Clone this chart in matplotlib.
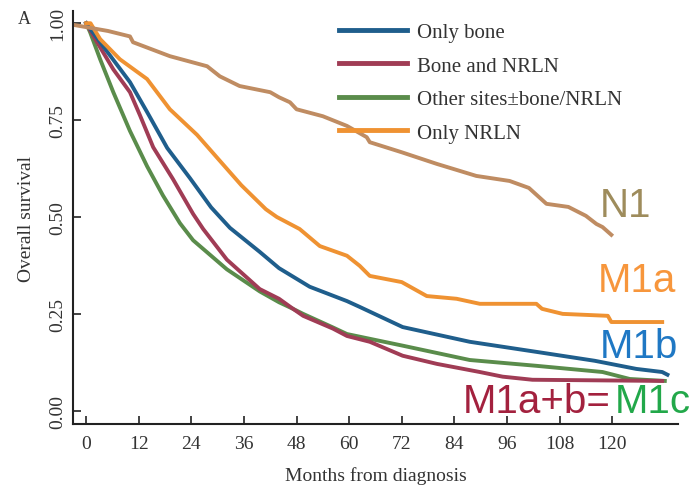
import matplotlib.pyplot as plt
from matplotlib.lines import Line2D

# Kaplan-Meier curves (months, survival)
n1_m = [-2.5, 0, 5, 10, 10.7, 19.1, 27.6, 30.5, 35, 42, 44, 46.5, 48, 54, 59.5, 64, 64.7,
        72, 80, 89, 96.6, 101, 105, 110, 114, 116.4, 117.8, 119.8]
n1_s = [0.995, 0.99, 0.98, 0.966, 0.951, 0.915, 0.889, 0.863, 0.838, 0.822, 0.809, 0.796,
        0.778, 0.76, 0.735, 0.706, 0.693, 0.667, 0.637, 0.606, 0.593, 0.575, 0.534, 0.526,
        0.503, 0.482, 0.474, 0.454]

nrln_m = [0, 1, 3.2, 7.7, 13.9, 19.1, 25.3, 30.5, 35.4, 41, 43.5, 48.7, 53.3, 59.5, 62.4,
          64.7, 72, 77.7, 84.5, 89.8, 102.7, 104, 108.7, 119, 119.8, 131.4]
nrln_s = [1.0, 1.0, 0.959, 0.907, 0.856, 0.778, 0.712, 0.645, 0.582, 0.52, 0.5, 0.469, 0.425,
          0.4, 0.374, 0.348, 0.332, 0.296, 0.289, 0.276, 0.276, 0.263, 0.25, 0.245, 0.229, 0.229]

bone_m = [0, 3.2, 10, 13.9, 18.5, 23.7, 28.5, 32.8, 39.6, 44, 51, 59.5, 62.4, 72.2, 87.5,
          102.7, 116, 125.5, 131.4, 132.6]
bone_s = [1.0, 0.951, 0.848, 0.771, 0.678, 0.6, 0.525, 0.472, 0.41, 0.368, 0.32, 0.283,
          0.268, 0.216, 0.178, 0.152, 0.129, 0.108, 0.1, 0.093]

bnr_m = [0, 2.5, 6.2, 10, 12.3, 15.3, 19.8, 24.4, 26.7, 32.1, 39.6, 44, 47.2, 49.5, 56.3,
         59.5, 64.7, 72.2, 80, 89.8, 95, 101.8, 131.4]
bnr_s = [1.0, 0.951, 0.881, 0.822, 0.762, 0.68, 0.598, 0.508, 0.469, 0.39, 0.314, 0.289,
         0.263, 0.245, 0.212, 0.193, 0.178, 0.142, 0.121, 0.1, 0.088, 0.08, 0.077]

oth_m = [0, 0.9, 3.2, 6.2, 10, 13.9, 17.5, 21.4, 24.4, 32.1, 39.6, 44, 47.2, 49.5, 56.3,
         59.5, 72.2, 87.5, 102.7, 117.8, 124, 132]
oth_s = [1.0, 0.977, 0.907, 0.822, 0.722, 0.631, 0.556, 0.484, 0.44, 0.365, 0.308, 0.28,
         0.263, 0.25, 0.215, 0.198, 0.168, 0.131, 0.116, 0.1, 0.082, 0.077]

xticks = [0, 12, 24, 36, 48, 60, 72, 84, 96, 108, 120]
yticks = [0.0, 0.25, 0.5, 0.75, 1.0]
ytick_labels = ["0.00", "0.25", "0.50", "0.75", "1.00"]
legend_labels = ["Only bone", "Bone and NRLN", "Other sites\u00b1bone/NRLN", "Only NRLN"]

c_bone = "#1F5E8C"
c_bnr = "#A03C55"
c_oth = "#5A8C4B"
c_nrln = "#EF9232"
c_n1 = "#BF8C62"
txt = "#333333"
serif = ["Liberation Serif", "DejaVu Serif"]

fig = plt.figure(figsize=(6.97, 4.89), dpi=100)
ax = fig.add_axes([0.1047, 0.131, 0.868, 0.844])

lw = 2.8
ax.plot(oth_m, oth_s, color=c_oth, lw=lw)
ax.plot(bnr_m, bnr_s, color=c_bnr, lw=lw)
ax.plot(bone_m, bone_s, color=c_bone, lw=lw)
ax.plot(nrln_m, nrln_s, color=c_nrln, lw=lw)
ax.plot(n1_m, n1_s, color=c_n1, lw=lw)

ax.set_xlim(-3, 135)
ax.set_ylim(-0.034, 1.031)
ax.set_xticks(xticks)
ax.set_xticklabels([str(t) for t in xticks], fontfamily=serif, fontsize=14, color=txt)
ax.set_yticks(yticks)
ax.set_yticklabels(ytick_labels, fontfamily=serif, fontsize=14, color=txt,
                   rotation=90, va="center")
ax.tick_params(direction="in", length=6, width=1.2, color="#222222")
ax.tick_params(axis="x", pad=8)
ax.tick_params(axis="y", pad=5)
for s in ["top", "right"]:
    ax.spines[s].set_visible(False)
for s in ["left", "bottom"]:
    ax.spines[s].set_linewidth(1.5)
    ax.spines[s].set_color("#222222")

ax.set_xlabel("Months from diagnosis", fontfamily=serif, fontsize=14, color=txt, labelpad=10)
ax.set_ylabel("Overall survival", fontfamily=serif, fontsize=14, color=txt, labelpad=10)

handles = [Line2D([], [], color=c, lw=3.5) for c in [c_bone, c_bnr, c_oth, c_nrln]]
ax.legend(handles, legend_labels, loc="upper left", bbox_to_anchor=(0.408, 1.018),
          frameon=False, prop={"family": serif, "size": 15}, labelcolor=txt,
          handlelength=3.3, handletextpad=0.45, labelspacing=0.67)

fig.text(18 / 697, 1 - 20 / 489, "A", fontfamily=serif, fontsize=13, color=txt,
         ha="left", va="center")

sans = "Liberation Sans"
fig.text(600 / 697, 1 - 217 / 489, "N1", fontfamily=sans, fontsize=29, color="#9E8C5C")
fig.text(598 / 697, 1 - 292 / 489, "M1a", fontfamily=sans, fontsize=29, color="#F7963C")
fig.text(600 / 697, 1 - 358 / 489, "M1b", fontfamily=sans, fontsize=29, color="#1F78C4")
fig.text(463 / 697, 1 - 413 / 489, "M1a+b=", fontfamily=sans, fontsize=29, color="#A3213E")
fig.text(615 / 697, 1 - 413 / 489, "M1c", fontfamily=sans, fontsize=29, color="#22A84A")

fig.savefig("out.png", dpi=100)
